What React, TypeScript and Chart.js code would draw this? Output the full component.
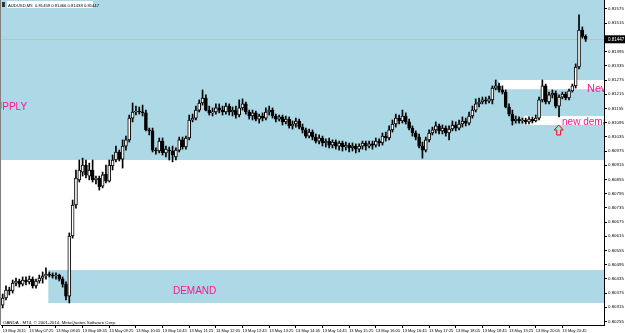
import React, { useEffect, useRef } from 'react';
import { Chart, registerables } from 'chart.js';

Chart.register(...registerables);

const symbolTitle = 'AUDUSD,M5  0.81459 0.81466 0.81438 0.81447';
const copyrightText = 'OANDA - MT4, \u00A9 2001-2014, MetaQuotes Software Corp.';

const timeTicks = [
  '13 May 2015', '13 May 07:25', '13 May 08:05', '13 May 08:45', '13 May 09:25', '13 May 10:05',
  '13 May 10:45', '13 May 11:25', '13 May 12:05', '13 May 12:45', '13 May 13:25', '13 May 14:05',
  '13 May 14:45', '13 May 15:25', '13 May 16:05', '13 May 16:45', '13 May 17:25', '13 May 18:05',
  '13 May 18:45', '13 May 19:25', '13 May 20:05', '13 May 20:45',
];
const barsPerTick = 8;
const totalSlots = 181;

const priceTicks = [
  0.81575, 0.81515, 0.81455, 0.81395, 0.81335, 0.81275, 0.81215, 0.81155, 0.81095, 0.81035,
  0.80975, 0.80915, 0.80855, 0.80795, 0.80735, 0.80675, 0.80615, 0.80555, 0.80495, 0.80435,
  0.80375, 0.80315, 0.80255,
];
const axisMin = 0.8024;
const axisMax = 0.81613;
const currentPrice = 0.81447;

const opens = [
  0.80324, 0.80354, 0.80388, 0.80384, 0.80417, 0.80426, 0.80413, 0.80430, 0.80422, 0.80434,
  0.80405, 0.80426, 0.80438, 0.80447, 0.80455, 0.80451, 0.80447, 0.80451, 0.80434, 0.80413,
  0.80362, 0.80616, 0.80747, 0.80853, 0.80886, 0.80916, 0.80869, 0.80895, 0.80853, 0.80861,
  0.80827, 0.80878, 0.80848, 0.80912, 0.80937, 0.80971, 0.80941, 0.80996, 0.81022, 0.81114,
  0.81140, 0.81144, 0.81140, 0.81136, 0.81064, 0.81060, 0.80979, 0.80975, 0.81017, 0.80967,
  0.80979, 0.80975, 0.80950, 0.80979, 0.81022, 0.80992, 0.81030, 0.81106, 0.81114, 0.81148,
  0.81178, 0.81199, 0.81148, 0.81136, 0.81140, 0.81157, 0.81148, 0.81140, 0.81165, 0.81140,
  0.81148, 0.81127, 0.81157, 0.81174, 0.81140, 0.81123, 0.81136, 0.81110, 0.81123, 0.81114,
  0.81140, 0.81148, 0.81123, 0.81110, 0.81119, 0.81098, 0.81110, 0.81081, 0.81089, 0.81102,
  0.81076, 0.81064, 0.81038, 0.81055, 0.81034, 0.81017, 0.81030, 0.81009, 0.81017, 0.81000,
  0.81013, 0.80996, 0.81009, 0.80992, 0.81000, 0.80988, 0.80996, 0.80983, 0.80996, 0.81009,
  0.80996, 0.81005, 0.81000, 0.81017, 0.81009, 0.81038, 0.81030, 0.81064, 0.81089, 0.81114,
  0.81102, 0.81123, 0.81098, 0.81072, 0.81051, 0.81034, 0.80996, 0.80979, 0.81022, 0.81051,
  0.81064, 0.81081, 0.81060, 0.81072, 0.81051, 0.81068, 0.81085, 0.81072, 0.81089, 0.81102,
  0.81093, 0.81123, 0.81148, 0.81174, 0.81182, 0.81191, 0.81186, 0.81191, 0.81241, 0.81250,
  0.81233, 0.81224, 0.81161, 0.81131, 0.81102, 0.81110, 0.81102, 0.81106, 0.81098, 0.81110,
  0.81102, 0.81114, 0.81191, 0.81250, 0.81182, 0.81212, 0.81220, 0.81165, 0.81203, 0.81216,
  0.81199, 0.81229, 0.81250, 0.81330, 0.81486, 0.81459,
];
const closes = [
  0.80354, 0.80388, 0.80384, 0.80417, 0.80426, 0.80413, 0.80430, 0.80422, 0.80434, 0.80405,
  0.80426, 0.80438, 0.80447, 0.80455, 0.80451, 0.80447, 0.80451, 0.80434, 0.80413, 0.80362,
  0.80616, 0.80747, 0.80861, 0.80895, 0.80916, 0.80874, 0.80895, 0.80853, 0.80861, 0.80823,
  0.80874, 0.80848, 0.80916, 0.80937, 0.80971, 0.80941, 0.80996, 0.81022, 0.81114, 0.81140,
  0.81144, 0.81140, 0.81136, 0.81064, 0.81060, 0.80979, 0.80975, 0.81017, 0.80967, 0.80983,
  0.80975, 0.80958, 0.80979, 0.81022, 0.80992, 0.81030, 0.81106, 0.81114, 0.81148, 0.81178,
  0.81199, 0.81148, 0.81136, 0.81140, 0.81157, 0.81148, 0.81140, 0.81165, 0.81140, 0.81148,
  0.81127, 0.81157, 0.81174, 0.81140, 0.81123, 0.81136, 0.81110, 0.81123, 0.81114, 0.81140,
  0.81148, 0.81123, 0.81110, 0.81119, 0.81098, 0.81110, 0.81081, 0.81089, 0.81102, 0.81076,
  0.81064, 0.81038, 0.81055, 0.81034, 0.81017, 0.81030, 0.81009, 0.81017, 0.81000, 0.81013,
  0.80996, 0.81009, 0.80992, 0.81000, 0.80988, 0.80996, 0.80983, 0.80996, 0.81009, 0.80996,
  0.81005, 0.81000, 0.81017, 0.81009, 0.81038, 0.81030, 0.81064, 0.81089, 0.81114, 0.81102,
  0.81123, 0.81098, 0.81072, 0.81051, 0.81034, 0.80996, 0.80979, 0.81022, 0.81051, 0.81064,
  0.81081, 0.81060, 0.81072, 0.81051, 0.81068, 0.81085, 0.81072, 0.81089, 0.81102, 0.81093,
  0.81123, 0.81148, 0.81174, 0.81182, 0.81191, 0.81186, 0.81195, 0.81241, 0.81250, 0.81233,
  0.81224, 0.81161, 0.81131, 0.81102, 0.81110, 0.81102, 0.81106, 0.81098, 0.81110, 0.81102,
  0.81114, 0.81191, 0.81250, 0.81182, 0.81212, 0.81220, 0.81165, 0.81203, 0.81216, 0.81199,
  0.81229, 0.81250, 0.81330, 0.81486, 0.81459, 0.81447,
];
const highs = [
  0.80371, 0.80405, 0.80400, 0.80430, 0.80438, 0.80434, 0.80443, 0.80443, 0.80447, 0.80443,
  0.80434, 0.80451, 0.80464, 0.80481, 0.80464, 0.80460, 0.80460, 0.80455, 0.80443, 0.80422,
  0.80629, 0.80768, 0.80895, 0.80937, 0.80945, 0.80937, 0.80924, 0.80937, 0.80869, 0.80869,
  0.80886, 0.80916, 0.80937, 0.80958, 0.80996, 0.80979, 0.81022, 0.81038, 0.81127, 0.81178,
  0.81165, 0.81161, 0.81169, 0.81148, 0.81072, 0.81072, 0.80988, 0.81030, 0.81030, 0.80996,
  0.80992, 0.80996, 0.80988, 0.81034, 0.81034, 0.81038, 0.81127, 0.81131, 0.81165, 0.81191,
  0.81233, 0.81212, 0.81165, 0.81157, 0.81174, 0.81174, 0.81165, 0.81178, 0.81174, 0.81161,
  0.81165, 0.81191, 0.81195, 0.81182, 0.81148, 0.81148, 0.81144, 0.81131, 0.81136, 0.81157,
  0.81165, 0.81157, 0.81131, 0.81127, 0.81127, 0.81123, 0.81119, 0.81102, 0.81114, 0.81110,
  0.81089, 0.81072, 0.81068, 0.81064, 0.81047, 0.81043, 0.81038, 0.81026, 0.81030, 0.81022,
  0.81022, 0.81017, 0.81017, 0.81013, 0.81009, 0.81009, 0.81005, 0.81005, 0.81017, 0.81017,
  0.81017, 0.81017, 0.81030, 0.81026, 0.81051, 0.81055, 0.81081, 0.81106, 0.81131, 0.81127,
  0.81148, 0.81136, 0.81110, 0.81081, 0.81060, 0.81047, 0.81013, 0.81034, 0.81064, 0.81076,
  0.81098, 0.81089, 0.81085, 0.81081, 0.81081, 0.81102, 0.81098, 0.81106, 0.81119, 0.81114,
  0.81140, 0.81165, 0.81195, 0.81199, 0.81203, 0.81203, 0.81207, 0.81250, 0.81275, 0.81262,
  0.81250, 0.81233, 0.81174, 0.81148, 0.81123, 0.81119, 0.81114, 0.81114, 0.81119, 0.81119,
  0.81127, 0.81203, 0.81275, 0.81258, 0.81224, 0.81233, 0.81229, 0.81212, 0.81224, 0.81224,
  0.81237, 0.81258, 0.81343, 0.81550, 0.81499, 0.81466,
];
const lows = [
  0.80312, 0.80346, 0.80367, 0.80375, 0.80405, 0.80400, 0.80405, 0.80409, 0.80413, 0.80396,
  0.80396, 0.80417, 0.80417, 0.80434, 0.80443, 0.80438, 0.80434, 0.80426, 0.80400, 0.80346,
  0.80333, 0.80607, 0.80734, 0.80844, 0.80869, 0.80861, 0.80853, 0.80844, 0.80836, 0.80810,
  0.80819, 0.80840, 0.80844, 0.80895, 0.80929, 0.80933, 0.80903, 0.80979, 0.81013, 0.81098,
  0.81127, 0.81131, 0.81123, 0.81060, 0.81043, 0.80971, 0.80962, 0.80967, 0.80958, 0.80950,
  0.80937, 0.80929, 0.80937, 0.80971, 0.80983, 0.80983, 0.81022, 0.81098, 0.81106, 0.81140,
  0.81169, 0.81144, 0.81127, 0.81123, 0.81131, 0.81136, 0.81127, 0.81131, 0.81127, 0.81123,
  0.81114, 0.81119, 0.81148, 0.81131, 0.81110, 0.81106, 0.81102, 0.81093, 0.81102, 0.81106,
  0.81127, 0.81114, 0.81098, 0.81102, 0.81085, 0.81089, 0.81072, 0.81068, 0.81076, 0.81068,
  0.81051, 0.81030, 0.81030, 0.81022, 0.81009, 0.81005, 0.80996, 0.80992, 0.80988, 0.80988,
  0.80983, 0.80979, 0.80975, 0.80979, 0.80971, 0.80975, 0.80967, 0.80971, 0.80983, 0.80979,
  0.80988, 0.80983, 0.80992, 0.80996, 0.81000, 0.81017, 0.81022, 0.81055, 0.81076, 0.81089,
  0.81093, 0.81089, 0.81064, 0.81038, 0.81022, 0.80988, 0.80945, 0.80971, 0.81013, 0.81043,
  0.81051, 0.81047, 0.81047, 0.81038, 0.81022, 0.81060, 0.81060, 0.81064, 0.81076, 0.81081,
  0.81085, 0.81114, 0.81140, 0.81161, 0.81174, 0.81174, 0.81178, 0.81174, 0.81233, 0.81224,
  0.81216, 0.81157, 0.81123, 0.81085, 0.81093, 0.81093, 0.81093, 0.81089, 0.81089, 0.81093,
  0.81098, 0.81106, 0.81182, 0.81174, 0.81174, 0.81199, 0.81157, 0.81119, 0.81195, 0.81191,
  0.81191, 0.81224, 0.81241, 0.81322, 0.81452, 0.81438,
];

// Zones (bar index where rectangle starts, price bounds)
const zoneStartBar = [-5, 13.7, 149, 156.5];
const zoneLowPrice = [0.80937, 0.80333, 0.81236, 0.81085];
const zoneHighPrice = [0.817, 0.80472, 0.81275, 0.81123];
const zoneColors = ['#ADD8E6', '#ADD8E6', '#FFFFFF', '#FFFFFF'];

// Text notes (bar index of left edge, baseline price)
const noteTexts = ['SUPPLY', 'DEMAND', 'New supply', 'new demand'];
const noteBar = [-4.3, 51.1, 175.4, 167.9];
const notePrice = [0.81148, 0.80369, 0.81224, 0.81085];
const noteSizes = [10, 10, 11, 10];
const noteColor = '#FF1493';

const arrowBar = 166.9;
const arrowPrice = 0.81085;

const FONT = '"Liberation Sans", Arial, sans-serif';

const categories = Array.from({ length: totalSlots }, (_, i) =>
  i % barsPerTick === 0 && i / barsPerTick < timeTicks.length ? timeTicks[i / barsPerTick] : ''
);

const overlayPlugin = {
  id: 'mtOverlay',
  beforeDatasetsDraw(chart: any) {
    const { ctx, chartArea: a, scales } = chart;
    const x = scales.x, y = scales.y;
    ctx.save();
    ctx.beginPath();
    ctx.rect(a.left, a.top, a.right - a.left, a.bottom - a.top);
    ctx.clip();
    for (let i = 0; i < zoneStartBar.length; i++) {
      const x0 = x.getPixelForValue(zoneStartBar[i]);
      const yt = y.getPixelForValue(zoneHighPrice[i]);
      const yb = y.getPixelForValue(zoneLowPrice[i]);
      ctx.fillStyle = zoneColors[i];
      ctx.fillRect(x0, yt, a.right - x0, yb - yt);
    }
    // bid line
    const py = Math.round(y.getPixelForValue(currentPrice)) + 0.5;
    ctx.strokeStyle = '#C0C0C0';
    ctx.lineWidth = 1;
    ctx.beginPath();
    ctx.moveTo(a.left, py);
    ctx.lineTo(a.right, py);
    ctx.stroke();
    ctx.restore();
  },
  afterDatasetsDraw(chart: any) {
    const { ctx, chartArea: a, scales } = chart;
    const x = scales.x, y = scales.y;
    ctx.save();
    ctx.beginPath();
    ctx.rect(a.left, a.top, a.right - a.left, a.bottom - a.top);
    ctx.clip();
    ctx.textAlign = 'left';
    ctx.textBaseline = 'alphabetic';
    ctx.fillStyle = noteColor;
    for (let i = 0; i < noteTexts.length; i++) {
      ctx.font = `${noteSizes[i]}px ${FONT}`;
      ctx.fillText(noteTexts[i], x.getPixelForValue(noteBar[i]), y.getPixelForValue(notePrice[i]));
    }
    // arrow outline
    const cx = x.getPixelForValue(arrowBar);
    const ty = y.getPixelForValue(arrowPrice);
    ctx.strokeStyle = '#FF0000';
    ctx.lineWidth = 1;
    ctx.beginPath();
    ctx.moveTo(cx, ty);
    ctx.lineTo(cx + 4.5, ty + 5);
    ctx.lineTo(cx + 2, ty + 5);
    ctx.lineTo(cx + 2, ty + 10);
    ctx.lineTo(cx - 2, ty + 10);
    ctx.lineTo(cx - 2, ty + 5);
    ctx.lineTo(cx - 4.5, ty + 5);
    ctx.closePath();
    ctx.stroke();
    ctx.restore();
  },
  afterDraw(chart: any) {
    const { ctx, chartArea: a, scales } = chart;
    const y = scales.y;
    ctx.save();
    // left border
    ctx.strokeStyle = '#808080';
    ctx.lineWidth = 1;
    ctx.beginPath();
    ctx.moveTo(0.5, 0);
    ctx.lineTo(0.5, a.bottom);
    ctx.stroke();
    // current price box
    const py = y.getPixelForValue(currentPrice);
    ctx.fillStyle = '#000000';
    ctx.fillRect(a.right, py - 4, 625 - a.right, 8);
    ctx.fillStyle = '#FFFFFF';
    ctx.font = `4.5px ${FONT}`;
    ctx.textBaseline = 'middle';
    ctx.textAlign = 'left';
    ctx.fillText(currentPrice.toFixed(5), a.right + 4, py);
    // header
    ctx.fillStyle = '#FFFFFF';
    ctx.fillRect(7, 1, 86, 7);
    ctx.fillStyle = '#333333';
    ctx.fillRect(2, 2, 3, 5);
    ctx.fillStyle = '#000000';
    ctx.font = `4.2px ${FONT}`;
    ctx.textBaseline = 'alphabetic';
    ctx.fillText(symbolTitle, 8, 6.5);
    // copyright
    ctx.fillStyle = '#000000';
    ctx.font = `4.4px ${FONT}`;
    ctx.fillText(copyrightText, 3, 324);
    ctx.restore();
  },
};

export default function App() {
  const ref = useRef<HTMLCanvasElement>(null);
  useEffect(() => {
    document.body.style.margin = '0';
    const canvas = ref.current;
    if (!canvas) return;
    const bodyFill = opens.map((o, i) => (closes[i] > o ? '#FFFFFF' : '#000000'));
    const chart = new Chart(canvas, {
      type: 'bar',
      data: {
        labels: categories,
        datasets: [
          {
            label: 'bodies',
            data: opens.map((o, i) => [o, closes[i]]) as any,
            backgroundColor: bodyFill,
            borderColor: '#000000',
            borderWidth: 1,
            borderSkipped: false,
            barThickness: 3,
            minBarLength: 1,
            grouped: false,
            order: 0,
          } as any,
          {
            label: 'wicks',
            data: highs.map((h, i) => [lows[i], h]) as any,
            backgroundColor: '#000000',
            borderWidth: 0,
            barThickness: 1,
            grouped: false,
            order: 1,
          } as any,
        ],
      },
      options: {
        animation: false,
        responsive: false,
        maintainAspectRatio: false,
        events: [],
        layout: { padding: { left: 1, top: 0, right: 0, bottom: 0 } },
        plugins: {
          legend: { display: false },
          tooltip: { enabled: false },
          title: { display: false },
        },
        scales: {
          x: {
            type: 'category',
            offset: true,
            grid: { display: true, drawOnChartArea: false, drawTicks: true, tickLength: 3, color: '#000000', offset: false },
            border: { display: true, color: '#000000', width: 1 },
            ticks: {
              autoSkip: false,
              maxRotation: 0,
              minRotation: 0,
              align: 'start',
              padding: 0,
              color: '#000000',
              font: { family: FONT, size: 4 },
              callback: function (this: any, value: any) {
                return this.getLabelForValue(value);
              },
            },
            afterBuildTicks: (s: any) => {
              s.ticks = s.ticks.filter((t: any) => categories[t.value] !== '');
            },
            afterFit: (s: any) => {
              s.height = 8;
              s.paddingLeft = 0;
              s.paddingRight = 0;
            },
          } as any,
          y: {
            type: 'linear',
            position: 'right',
            min: axisMin,
            max: axisMax,
            grid: { display: true, drawOnChartArea: false, drawTicks: true, tickLength: 3, color: '#000000' },
            border: { display: true, color: '#000000', width: 1 },
            ticks: {
              autoSkip: false,
              padding: 1,
              color: '#000000',
              font: { family: FONT, size: 4.4 },
              callback: (v: any) => Number(v).toFixed(5),
            },
            afterBuildTicks: (s: any) => {
              s.ticks = priceTicks.map((v) => ({ value: v }));
            },
            afterFit: (s: any) => {
              s.width = 21;
              s.paddingTop = 0;
              s.paddingBottom = 0;
            },
          } as any,
        },
      },
      plugins: [overlayPlugin as any],
    });
    return () => chart.destroy();
  }, []);
  return (
    <div style={{ width: 625, height: 333, position: 'relative', background: '#FFFFFF' }}>
      <canvas ref={ref} width={625} height={333} style={{ display: 'block', width: 625, height: 333 }} />
    </div>
  );
}
